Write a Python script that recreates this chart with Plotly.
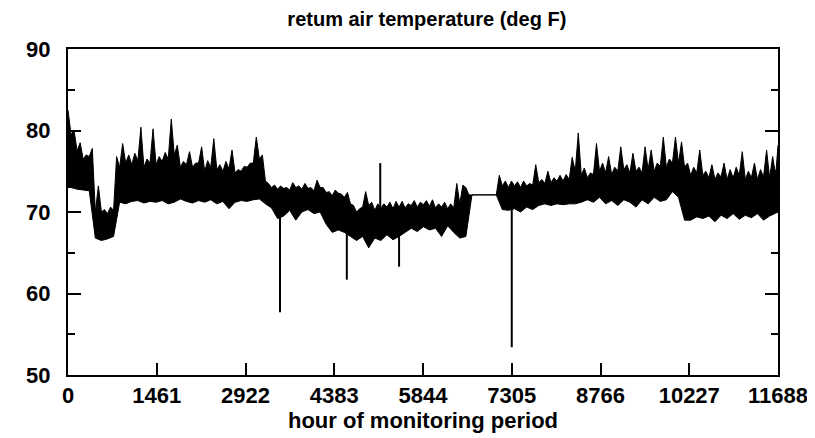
import plotly.graph_objects as go

# Upper envelope of the hourly record (read every 50 h, plus the last hour)
hours_high = list(range(0, 11700, 50)) + [11688]
temp_high = [
    82.5, 79.5, 80.0, 77.5, 78.5, 76.5, 77.0, 76.8, 77.8, 70.0,
    73.2, 70.0, 70.3, 69.8, 70.6, 70.2, 76.8, 75.5, 78.4, 76.0,
    77.0, 75.8, 77.2, 76.3, 80.4, 75.5, 76.5, 76.0, 80.2, 75.8,
    76.8, 76.2, 77.3, 76.5, 81.4, 77.0, 78.2, 75.5, 76.2, 75.8,
    77.4, 75.5, 76.0, 76.0, 78.0, 75.0, 76.3, 75.5, 79.0, 75.2,
    75.8, 75.0, 76.2, 75.3, 77.6, 74.8, 75.2, 75.0, 75.6, 75.5,
    76.0, 76.0, 79.2, 76.5, 77.0, 73.8, 73.5, 73.0, 73.3, 72.8,
    73.2, 72.9, 73.0, 72.7, 73.6, 73.0, 73.2, 72.8, 73.5, 72.9,
    73.0, 72.6, 73.9, 73.0, 73.0, 72.4, 72.5, 72.0, 72.7, 72.3,
    72.2, 71.8, 72.4, 71.0, 70.8, 70.0, 70.4, 70.6, 72.5, 70.8,
    71.2, 70.2, 71.0, 70.5, 71.0, 70.6, 71.2, 70.4, 71.3, 70.6,
    71.3, 70.5, 71.0, 70.8, 71.4, 70.6, 71.2, 70.9, 71.4, 70.7,
    71.5, 70.5, 71.0, 70.6, 71.2, 70.4, 71.0, 70.5, 73.5, 71.0,
    73.3, 73.0, 72.1, 72.1, 72.1, 72.1, 72.1, 72.1, 72.1, 72.1,
    72.1, 72.1, 74.5, 73.2, 73.8, 73.0, 73.8, 73.2, 73.7, 73.0,
    73.8, 73.2, 73.5, 73.3, 75.8, 73.6, 74.0, 73.5, 75.0, 73.6,
    74.2, 73.8, 74.5, 73.8, 74.6, 74.0, 76.7, 75.0, 79.7, 74.5,
    75.4, 74.2, 74.8, 74.6, 78.4, 75.0, 76.0, 74.8, 76.8, 74.6,
    75.5, 75.0, 78.0, 75.2, 75.8, 74.8, 77.2, 75.0, 75.5, 74.8,
    78.0, 75.2, 77.6, 75.0, 76.0, 75.6, 79.2, 75.5, 76.5, 76.0,
    79.2, 76.0, 78.6, 75.5, 76.0, 74.5, 75.5, 74.8, 77.6, 74.5,
    75.0, 74.2, 75.8, 74.0, 74.8, 74.3, 76.0, 74.0, 75.2, 74.2,
    75.5, 74.5, 77.4, 74.0, 75.0, 74.2, 76.0, 74.0, 75.2, 74.3,
    77.6, 74.2, 76.8, 74.5,
    78.2,
]

# Lower envelope (read every 100 h, starting at hour 50)
hours_low = [0] + list(range(50, 11700, 100)) + [11688]
temp_low = [
    73.0,
    73.0, 72.8, 72.7, 72.6, 66.8, 66.5, 66.7, 67.0, 71.2, 71.0,
    71.3, 71.4, 71.1, 71.3, 71.2, 71.4, 71.0, 71.2, 71.6, 71.3,
    71.1, 71.4, 71.2, 71.5, 71.0, 71.3, 70.4, 71.2, 71.4, 71.3,
    71.5, 71.6, 71.0, 70.5, 69.2, 69.5, 70.2, 69.0, 70.0, 70.3,
    69.8, 70.0, 68.5, 67.5, 67.8, 67.5, 67.0, 66.5, 67.0, 65.6,
    66.8, 66.5, 67.2, 66.6, 67.0, 67.5, 68.0, 67.6, 68.2, 67.8,
    68.0, 67.0, 68.3, 67.5, 66.8, 67.0, 72.1, 72.1, 72.1, 72.1,
    72.1, 70.3, 70.2, 70.4, 70.0, 70.6, 70.3, 70.8, 71.0, 70.8,
    71.0, 70.9, 71.0, 71.0, 71.2, 71.5, 71.2, 71.8, 71.0, 71.4,
    70.8, 71.5, 71.2, 70.6, 71.5, 71.0, 71.8, 71.3, 71.5, 72.5,
    71.8, 69.0, 69.0, 69.4, 69.2, 69.5, 68.8, 69.6, 69.2, 69.8,
    69.1, 69.6, 69.3, 69.8, 69.0, 69.5, 69.8, 70.0,
]

# Isolated excursions (hour, band level, tip value)
spike_hours = [3490, 4590, 5140, 5450, 7305]
spike_base = [71.0, 70.0, 70.0, 68.0, 71.0]
spike_tip = [57.7, 61.7, 76.0, 63.3, 53.4]

x_tick_vals = [0, 1461, 2922, 4383, 5844, 7305, 8766, 10227, 11688]
x_tick_text = ["0", "1461", "2922", "4383", "5844", "7305", "8766", "10227", "11688"]
y_tick_vals = [50, 60, 70, 80, 90]

FONT = "Liberation Sans, Arial, sans-serif"

fig = go.Figure()
fig.add_trace(go.Scatter(x=hours_low, y=temp_low, mode="lines",
                         line=dict(color="black", width=1), showlegend=False,
                         hoverinfo="skip"))
fig.add_trace(go.Scatter(x=hours_high, y=temp_high, mode="lines",
                         line=dict(color="black", width=1), fill="tonexty",
                         fillcolor="black", showlegend=False))

sx, sy = [], []
for h, b, t in zip(spike_hours, spike_base, spike_tip):
    sx += [h, h, None]
    sy += [b, t, None]
fig.add_trace(go.Scatter(x=sx, y=sy, mode="lines",
                         line=dict(color="black", width=2), showlegend=False))

fig.update_layout(
    width=807, height=430,
    margin=dict(l=60, r=37, t=41, b=63, autoexpand=False),
    paper_bgcolor="white", plot_bgcolor="white",
    title=dict(text="retum air temperature (deg F)", x=0.519, xanchor="center",
               xref="container", yref="container",
               y=0.975, yanchor="middle",
               font=dict(family=FONT, size=20, color="black", weight="bold")),
    font=dict(family=FONT, color="black"),
)
fig.update_xaxes(
    range=[0, 11688], tickvals=x_tick_vals, ticktext=x_tick_text,
    ticks="inside", ticklen=12, tickwidth=2, tickcolor="black",
    showline=True, linecolor="black", linewidth=2, mirror=True,
    showgrid=False, zeroline=False, automargin=False,
    tickfont=dict(family=FONT, size=22, color="black", weight="bold"),
    title=dict(text="hour of monitoring period", standoff=3,
               font=dict(family=FONT, size=22, color="black", weight="bold")),
)
fig.update_yaxes(
    range=[50, 90], tickvals=y_tick_vals,
    ticks="inside", ticklen=13, tickwidth=2, tickcolor="black",
    minor=dict(dtick=5, tick0=50, ticks="inside", ticklen=7, tickwidth=2,
               tickcolor="black", showgrid=False),
    showline=True, linecolor="black", linewidth=2, mirror="ticks",
    showgrid=False, zeroline=False, ticklabelstandoff=11, automargin=False,
    tickfont=dict(family=FONT, size=22, color="black", weight="bold"),
)

fig.write_html("out.html")
